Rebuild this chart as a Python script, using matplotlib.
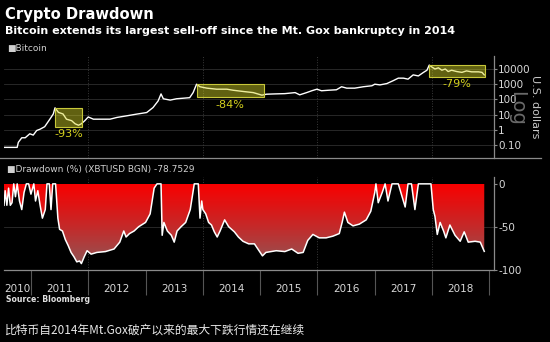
import matplotlib
matplotlib.use("Agg")
import matplotlib.pyplot as plt
import numpy as np
from matplotlib.colors import LinearSegmentedColormap
from matplotlib.patches import Rectangle, PathPatch
from matplotlib.lines import Line2D

plt.rcParams['axes.unicode_minus'] = False

# Bitcoin price (USD, log scale)
price_years = [2010.53, 2010.76, 2010.78, 2010.84, 2010.90, 2010.98, 2011.04, 2011.10, 2011.16, 2011.24,
               2011.33, 2011.39, 2011.42, 2011.48, 2011.56, 2011.62, 2011.71, 2011.77, 2011.83, 2011.88,
               2011.94, 2012.00, 2012.09, 2012.20, 2012.38, 2012.50, 2012.67, 2012.84, 2013.02, 2013.13,
               2013.22, 2013.27, 2013.31, 2013.43, 2013.54, 2013.66, 2013.77, 2013.83, 2013.89, 2013.95,
               2014.07, 2014.24, 2014.42, 2014.53, 2014.71, 2014.88, 2015.03, 2015.11, 2015.26, 2015.43,
               2015.61, 2015.69, 2015.81, 2015.90, 2015.99, 2016.07, 2016.19, 2016.33, 2016.42, 2016.51,
               2016.65, 2016.80, 2016.95, 2017.00, 2017.09, 2017.21, 2017.32, 2017.41, 2017.50, 2017.58,
               2017.67, 2017.76, 2017.85, 2017.91, 2017.95, 2017.99, 2018.05, 2018.11, 2018.17, 2018.23,
               2018.28, 2018.34, 2018.43, 2018.52, 2018.60, 2018.69, 2018.81, 2018.87, 2018.91]
prices = [0.07, 0.07, 0.15, 0.3, 0.3, 0.55, 0.45, 0.9, 1.1, 1.6,
          5, 11, 28, 14, 11, 5, 4, 2.5, 2, 2.5,
          4, 7, 5, 5, 5, 6.5, 8.3, 10.7, 13.7, 29,
          80, 230, 110, 90, 110, 120, 130, 280, 1000, 680,
          550, 470, 470, 400, 330, 280, 190, 220, 230, 240,
          280, 200, 280, 370, 470, 370, 400, 430, 680, 550,
          550, 680, 790, 1000, 900, 1100, 1700, 2500, 2500, 2150,
          4100, 3500, 6000, 8300, 18000, 14000, 10000, 12000, 8300, 10000,
          6800, 8300, 6800, 6000, 7500, 6500, 6500, 6000, 4100]

# drawdown (%) from the running high
dd_years = [2010.53, 2010.55, 2010.58, 2010.61, 2010.64, 2010.67, 2010.70, 2010.73, 2010.76, 2010.80,
            2010.84, 2010.88, 2010.92, 2010.96, 2011.00, 2011.05, 2011.08, 2011.12, 2011.16, 2011.20,
            2011.25, 2011.28, 2011.32, 2011.35, 2011.38, 2011.43, 2011.47, 2011.50, 2011.55, 2011.60,
            2011.65, 2011.70, 2011.75, 2011.80, 2011.85, 2011.88, 2011.93, 2011.98, 2012.05, 2012.15,
            2012.30, 2012.45, 2012.55, 2012.62, 2012.66, 2012.72, 2012.80, 2012.88, 2012.95, 2013.00,
            2013.08, 2013.15, 2013.20, 2013.27, 2013.29, 2013.32, 2013.38, 2013.45, 2013.50, 2013.55,
            2013.62, 2013.70, 2013.78, 2013.85, 2013.92, 2013.95, 2013.98, 2014.00, 2014.05, 2014.10,
            2014.15, 2014.20, 2014.25, 2014.30, 2014.38, 2014.45, 2014.55, 2014.62, 2014.70, 2014.80,
            2014.90, 2014.97, 2015.04, 2015.10, 2015.28, 2015.43, 2015.55, 2015.66, 2015.75, 2015.83,
            2015.92, 2016.03, 2016.15, 2016.27, 2016.38, 2016.43, 2016.47, 2016.53, 2016.62, 2016.73,
            2016.85, 2016.93, 2017.00, 2017.02, 2017.06, 2017.13, 2017.18, 2017.23, 2017.30, 2017.41,
            2017.50, 2017.53, 2017.58, 2017.64, 2017.70, 2017.76, 2017.93, 2017.98, 2018.02, 2018.05,
            2018.09, 2018.14, 2018.20, 2018.24, 2018.31, 2018.40, 2018.49, 2018.56, 2018.63, 2018.75,
            2018.84, 2018.91]
drawdown = [-25, -8, -25, -5, -25, -22, 0, -15, 0, -20,
            -30, -10, 0, 0, -12, 0, -20, -8, -25, -40,
            -30, 0, 0, -30, 0, 0, -40, -53, -55, -65,
            -72, -80, -85, -91, -90, -93, -85, -78, -82, -80,
            -79, -76, -68, -55, -62, -58, -55, -50, -47, -45,
            -35, -5, 0, 0, -60, -45, -55, -60, -68, -55,
            -50, -45, -30, 0, 0, -40, -20, -30, -35, -45,
            -48, -56, -62, -55, -42, -50, -56, -62, -67, -70,
            -70, -77, -84, -80, -78, -79, -76, -81, -80, -66,
            -59, -63, -63, -61, -58, -45, -33, -45, -49, -47,
            -42, -32, -10, 0, -22, -10, 0, -20, 0, 0,
            -20, -27, 0, 0, -30, 0, 0, 0, -30, -38,
            -59, -45, -55, -63, -48, -60, -67, -56, -68, -67,
            -68, -78.75]

# highlighted sell-offs
box_start = [2011.42, 2013.90, 2017.95]
box_end = [2011.89, 2015.06, 2018.93]
box_high = [29, 1100, 19500]
box_low = [1.6, 150, 3200]
box_labels = ['-93%', '-84%', '-79%']

year_edges = list(range(2011, 2020))
year_names = [str(y) for y in range(2010, 2019)]

W, H = 550, 342
X0, X1 = 2010.53, 2019.08

fig = plt.figure(figsize=(5.5, 3.42), dpi=100, facecolor='black')


def fx(px):
    return px / W


def fy(py):
    return 1 - py / H


ax1 = fig.add_axes([fx(4), fy(158), fx(490), 102 / H], facecolor='black')
ax2 = fig.add_axes([fx(4), fy(270), fx(490), 93 / H], facecolor='black')

grid_col = '#2e2e2e'
spine_col = '#8a8a8a'
tick_col = '#d8d8d8'

# ---- top panel: price ----
ax1.set_yscale('log')
ax1.set_xlim(X0, X1)
ax1.set_ylim(0.014, 71600)
for y in [0.1, 1, 10, 100, 1000, 10000]:
    ax1.axhline(y, color=grid_col, lw=0.6, zorder=0)
for yr in [2012, 2014, 2016, 2018]:
    ax1.axvline(yr, color='#3a3a3a', lw=0.7, ls=':', zorder=0)
ax1.plot(price_years, prices, color='white', lw=1.0, zorder=3)

for x0, x1, hi, lo, lab in zip(box_start, box_end, box_high, box_low, box_labels):
    ax1.add_patch(Rectangle((x0, lo), x1 - x0, hi - lo, facecolor=(0.85, 0.85, 0.15, 0.45),
                            edgecolor='#c8c83a', lw=0.8, zorder=4))
    ax1.annotate(lab, ((x0 + x1) / 2, lo), xytext=(0, -2), textcoords='offset points',
                 ha='center', va='top', color='#d6d21e', fontsize=8, zorder=5)

ax1.yaxis.tick_right()
ax1.set_yticks([0.1, 1, 10, 100, 1000, 10000])
ax1.set_yticklabels(['0.10', '1', '10', '100', '1000', '10000'])
ax1.minorticks_off()
ax1.tick_params(axis='y', colors=spine_col, labelcolor=tick_col, labelsize=7.5, length=2, width=0.8, pad=1)
ax1.set_xticks([])
for s in ['left', 'top', 'bottom']:
    ax1.spines[s].set_visible(False)
ax1.spines['right'].set_color(spine_col)
ax1.spines['right'].set_linewidth(0.9)

# ---- bottom panel: drawdown ----
ax2.set_xlim(X0, X1)
ax2.set_ylim(-100.5, 8)
ax2.axhline(-50, color=grid_col, lw=0.6, zorder=0)
for yr in [2012, 2014, 2016, 2018]:
    ax2.axvline(yr, color='#3a3a3a', lw=0.7, ls=':', zorder=0)

fill = ax2.fill_between(dd_years, drawdown, 0, color='none', lw=0)
clip = PathPatch(fill.get_paths()[0], transform=ax2.transData, facecolor='none', edgecolor='none')
ax2.add_patch(clip)
cmap = LinearSegmentedColormap.from_list('dd', ['#8a5c5c', '#c42a2a', '#f80000'])
grad = np.linspace(0, 1, 256).reshape(-1, 1)
img = ax2.imshow(grad, extent=[X0, X1, -100, 0], origin='lower', aspect='auto', cmap=cmap, zorder=1)
img.set_clip_path(clip)
ax2.plot(dd_years, drawdown, color='white', lw=1.1, zorder=3)
ax2.set_xlim(X0, X1)
ax2.set_ylim(-100.5, 8)

ax2.yaxis.tick_right()
ax2.set_yticks([0, -50, -100])
ax2.set_yticklabels(['0', '-50', '-100'])
ax2.tick_params(axis='y', colors=spine_col, labelcolor=tick_col, labelsize=7.5, length=2, width=0.8, pad=1)

mids = [(max(e - 1, X0) + e) / 2 for e in year_edges]
ax2.set_xticks(mids)
ax2.set_xticklabels(year_names)
ax2.set_xticks(year_edges, minor=True)
ax2.tick_params(axis='x', which='major', length=0, labelcolor=tick_col, labelsize=7.5, pad=10)
ax2.tick_params(axis='x', which='minor', length=18, width=0.8, color='#555555', direction='out')
for s in ['left', 'top']:
    ax2.spines[s].set_visible(False)
ax2.spines['right'].set_color(spine_col)
ax2.spines['bottom'].set_color(spine_col)
ax2.spines['right'].set_linewidth(0.9)
ax2.spines['bottom'].set_linewidth(0.9)

# separator between panels
fig.add_artist(Line2D([0, fx(541)], [fy(158), fy(158)], color=spine_col, lw=0.9))

# ---- texts ----
fig.text(fx(5), fy(15), 'Crypto Drawdown', color='white', fontsize=10.6, fontweight='bold', va='center')
fig.text(fx(5), fy(31), 'Bitcoin extends its largest sell-off since the Mt. Gox bankruptcy in 2014',
         color='white', fontsize=8, fontweight='bold', va='center')
fig.text(fx(7), fy(48), '\u25a0Bitcoin', color='#d0d0d0', fontsize=6.5, va='center')
fig.text(fx(7), fy(169), '\u25a0Drawdown (%) (XBTUSD BGN) -78.7529', color='#d0d0d0', fontsize=6.5, va='center')
fig.text(fx(517), fy(108), 'Log', color='#6a6a6a', fontsize=14, rotation=-90, ha='center', va='center')
fig.text(fx(535), fy(107), 'U.S. dollars', color='#c8c8c8', fontsize=8, rotation=-90, ha='center', va='center')
fig.text(fx(6), fy(300), 'Source: Bloomberg', color='#e0e0e0', fontsize=5.6, fontweight='bold', va='center')
fig.text(fx(5), fy(330), '比特币自2014年Mt.Gox破产以来的最大下跌行情还在继续', color='#e8e8e8',
         fontsize=8.5, va='center', family=['Noto Sans CJK SC', 'DejaVu Sans'])

fig.savefig('out.png', dpi=100, facecolor='black')
